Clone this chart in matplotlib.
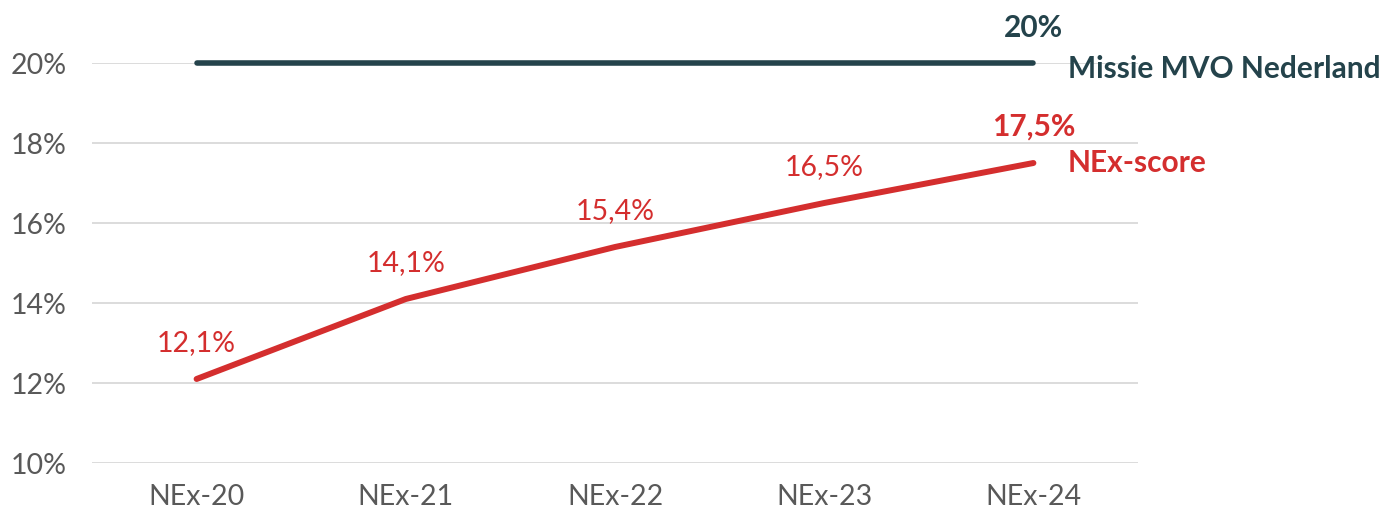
import matplotlib
matplotlib.use("Agg")
import matplotlib.pyplot as plt

categories = ["NEx-20", "NEx-21", "NEx-22", "NEx-23", "NEx-24"]
nex_score = [12.1, 14.1, 15.4, 16.5, 17.5]
nex_labels = ["12,1%", "14,1%", "15,4%", "16,5%", "17,5%"]
missie = [20, 20, 20, 20, 20]
missie_label = "20%"
yticks = [10, 12, 14, 16, 18, 20]
ytick_labels = ["10%", "12%", "14%", "16%", "18%", "20%"]

RED = "#d42e2e"
DARK = "#24434b"
GRAY = "#595959"

plt.rcParams['font.family'] = ['Lato', 'DejaVu Sans']

W, H = 1387, 511
fig = plt.figure(figsize=(W / 100, H / 100), dpi=100)
ax = fig.add_axes([92 / W, 1 - 463 / H, (1138 - 92) / W, (463 - 63) / H])

x = list(range(len(categories)))
ax.set_xlim(-0.5, len(categories) - 0.5)
ax.set_ylim(10, 20)

ax.plot(x, missie, color=DARK, lw=4.0, solid_capstyle='round', clip_on=False, zorder=3)
ax.plot(x, nex_score, color=RED, lw=4.3, solid_capstyle='round', clip_on=False, zorder=3)

FS = 20.5
FB = 21.5
for i, (v, lab) in enumerate(zip(nex_score, nex_labels)):
    last = i == len(nex_score) - 1
    ax.annotate(lab, (i, v), xytext=(0, 26), textcoords='offset points',
                ha='center', va='center', color=RED,
                fontsize=FB if last else FS,
                fontweight='bold' if last else 'normal')

ax.annotate(missie_label, (x[-1], missie[-1]), xytext=(0, 25), textcoords='offset points',
            ha='center', va='center', color=DARK, fontsize=FB, fontweight='bold',
            annotation_clip=False)
ax.annotate("Missie MVO Nederland", (x[-1], missie[-1]), xytext=(25, -4), textcoords='offset points',
            ha='left', va='center', color=DARK, fontsize=FB, fontweight='bold',
            annotation_clip=False)
ax.annotate("NEx-score", (x[-1], nex_score[-1]), xytext=(25, 0), textcoords='offset points',
            ha='left', va='center', color=RED, fontsize=FB, fontweight='bold',
            annotation_clip=False)

ax.set_yticks(yticks)
ax.set_yticklabels(ytick_labels)
ax.set_xticks(x)
ax.set_xticklabels(categories)
ax.tick_params(axis='y', length=0, pad=18, labelsize=FS, labelcolor=GRAY)
ax.tick_params(axis='x', length=0, pad=15, labelsize=FS, labelcolor=GRAY)
ax.grid(axis='y', color='#d9d9d9', lw=1.3)
ax.set_axisbelow(True)
for s in ax.spines.values():
    s.set_visible(False)

fig.savefig("out.png", dpi=100)
